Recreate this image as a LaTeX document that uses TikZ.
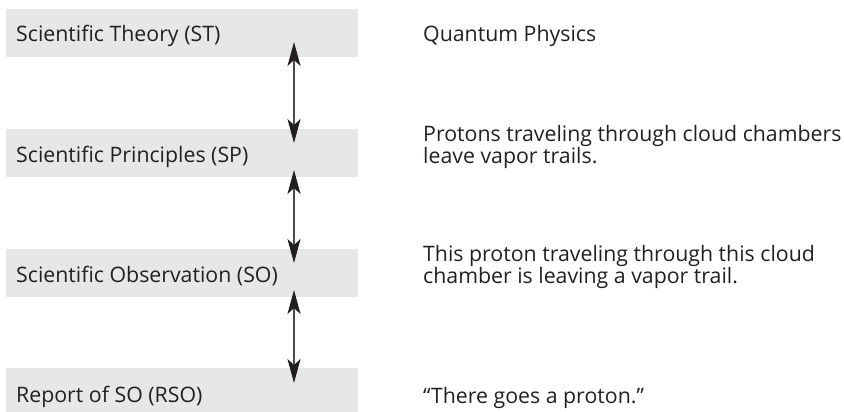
\documentclass[tikz,border=0pt]{standalone}
\usepackage{fontspec}
\setmainfont{Open Sans}
\usetikzlibrary{arrows.meta}
\definecolor{boxgray}{HTML}{E6E7E8}
\definecolor{txt}{HTML}{231F20}
\definecolor{linegray}{HTML}{4A4A4C}
\begin{document}
\begin{tikzpicture}[x=1pt,y=-1pt,
  lvl/.style={fill=boxgray, minimum width=352pt, minimum height=48pt, inner sep=0pt, anchor=north west},
  lbl/.style={anchor=base west, inner sep=0pt, text=txt, font=\fontsize{21.3}{22}\selectfont},
  rtxt/.style={anchor=base west, inner sep=0pt, text=txt, align=left, font=\fontsize{21.3}{21.5}\selectfont},
  biarrow/.style={{Stealth[length=24pt,width=13pt,inset=6pt,color=txt]}-{Stealth[length=24pt,width=13pt,inset=6pt,color=txt]}, draw=linegray, line width=1.1pt}]
\useasboundingbox (0,0) rectangle (844,412);
\node[lvl] (st) at (6,9) {};
\node[lvl] (sp) at (6,129) {};
\node[lvl] (so) at (6,249) {};
\node[lvl, minimum height=44pt] (rso) at (6,368) {};
\node[lbl] (stl) at (16,42) {Scientific Theory (ST)};
\node[lbl] (spl) at (16,162) {Scientific Principles (SP)};
\node[lbl] (sol) at (16,282) {Scientific Observation (SO)};
\node[lbl] (rsol) at (16,402) {Report of SO (RSO)};
\node[rtxt] (qp) at (423,42) {Quantum Physics};
\node[rtxt] (pr) at (423,163) {Protons traveling through cloud chambers\\leave vapor trails.};
\node[rtxt] (po) at (423,283) {This proton traveling through this cloud\\chamber is leaving a vapor trail.};
\node[rtxt] (rp) at (423,403) {“There goes a proton.”};
\coordinate (a1) at (294,42);
\coordinate (b1) at (294,143);
\coordinate (a2) at (294,170);
\coordinate (b2) at (294,263);
\coordinate (a3) at (294,290);
\coordinate (b3) at (294,383);
\draw[biarrow] (a1) -- (b1);
\draw[biarrow] (a2) -- (b2);
\draw[biarrow] (a3) -- (b3);
\end{tikzpicture}
\end{document}
